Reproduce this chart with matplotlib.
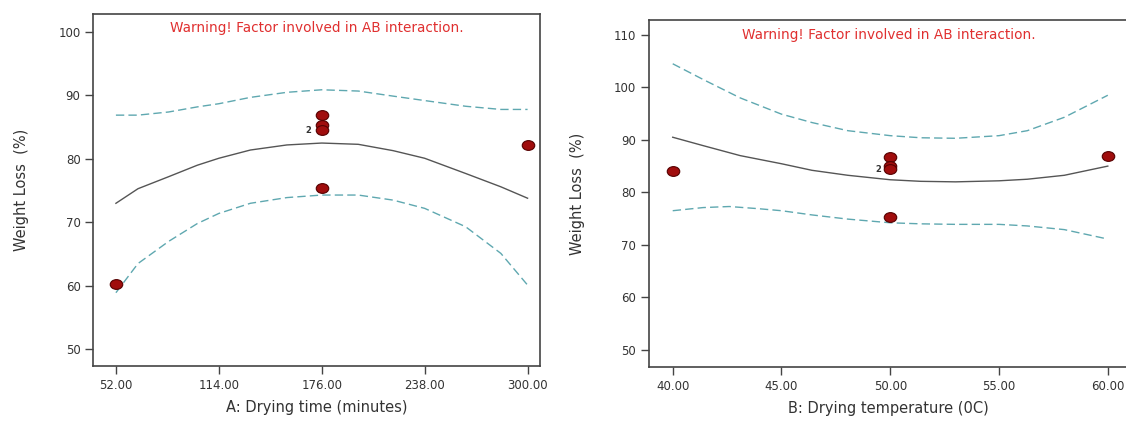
import numpy as np
import matplotlib.pyplot as plt
from matplotlib.path import Path

# --- panel A: drying time ---
time_x = [52, 65.3, 83.8, 101, 114, 133, 155, 176, 198, 219, 238, 262.7, 283.9, 300]
time_fit = [73.0, 75.3, 77.2, 79.0, 80.1, 81.4, 82.2, 82.5, 82.3, 81.3, 80.1, 77.7, 75.6, 73.8]
time_upper = [86.9, 86.9, 87.4, 88.2, 88.7, 89.7, 90.5, 90.9, 90.7, 89.9, 89.2, 88.3, 87.8, 87.8]
time_lower = [58.9, 63.5, 67.0, 69.8, 71.4, 73.0, 73.9, 74.3, 74.3, 73.5, 72.2, 69.3, 65.1, 60.1]
time_pts_x = [52, 176, 176, 176, 176, 300]
time_pts_y = [60.2, 86.9, 85.3, 84.5, 75.4, 82.2]
time_ticks = [52, 114, 176, 238, 300]

# --- panel B: drying temperature ---
temp_x = [40, 41.4, 43.1, 45, 46.4, 48.05, 50, 51.4, 53, 55, 56.3, 58, 60]
temp_fit = [90.5, 88.9, 87.0, 85.45, 84.2, 83.25, 82.4, 82.1, 82.0, 82.2, 82.5, 83.25, 85.0]
temp_upper = [104.5, 101.5, 98.0, 94.9, 93.3, 91.75, 90.8, 90.4, 90.3, 90.8, 91.75, 94.3, 98.5]
temp_lower = [76.5, 77.1, 77.3, 76.9, 76.5, 75.7, 74.9, 74.2, 74.0, 73.9, 73.9, 73.6, 72.9, 71.1]
temp_lower_x = [40, 41.4, 42.6, 43.9, 45, 46.4, 48.05, 50, 51.4, 53, 55, 56.3, 58, 60]
temp_pts_x = [40, 50, 50, 50, 50, 60]
temp_pts_y = [84.1, 86.7, 85.1, 84.4, 75.3, 87.0]
temp_ticks = [40, 45, 50, 55, 60]

warn = "Warning! Factor involved in AB interaction."
fit_col = "#555555"
ci_col = "#5fa8b0"
pt_col = "#a00d0d"
txt_col = "#333333"

# slightly flattened dot, like the design-expert markers
circ = Path.unit_circle()
ellipse = Path(circ.vertices * np.array([1.0, 0.78]), circ.codes)

fig = plt.figure(figsize=(11.26, 4.21), dpi=100)
ax1 = fig.add_axes([0.0826, 0.130, 0.397, 0.836])
ax2 = fig.add_axes([0.576, 0.128, 0.426, 0.824])

def style(ax):
    for s in ax.spines.values():
        s.set_color("#444444")
        s.set_linewidth(1.2)
    ax.tick_params(direction="out", length=6, width=1, colors="#444444",
                   labelsize=8.5, labelcolor=txt_col, pad=3)

# panel A
ax1.plot(time_x, time_fit, color=fit_col, lw=1)
ax1.plot(time_x, time_upper, color=ci_col, lw=1, ls=(0, (6, 3)))
ax1.plot(time_x, time_lower, color=ci_col, lw=1, ls=(0, (6, 3)))
ax1.plot(time_pts_x, time_pts_y, marker=ellipse, color=pt_col, mec="#550000", mew=0.8, ms=9, ls="none")
ax1.text(168, 84.4, "2", fontsize=6, fontweight="bold", color=txt_col, ha="center", va="center")
ax1.set_xlim(38.2, 307.5)
ax1.set_ylim(47.3, 102.8)
ax1.set_xticks(time_ticks)
ax1.set_xticklabels(["%.2f" % t for t in time_ticks])
ax1.set_yticks([50, 60, 70, 80, 90, 100])
ax1.set_xlabel("A: Drying time (minutes)", fontsize=10.5, color=txt_col, labelpad=6)
ax1.set_ylabel("Weight Loss  (%)", fontsize=10.5, color=txt_col, labelpad=21)
ax1.text(0.5, 0.962, warn, transform=ax1.transAxes, ha="center", va="center",
         color="#e03030", fontsize=9.8)
style(ax1)

# panel B
ax2.plot(temp_x, temp_fit, color=fit_col, lw=1)
ax2.plot(temp_x, temp_upper, color=ci_col, lw=1, ls=(0, (6, 3)))
ax2.plot(temp_lower_x, temp_lower, color=ci_col, lw=1, ls=(0, (6, 3)))
ax2.plot(temp_pts_x, temp_pts_y, marker=ellipse, color=pt_col, mec="#550000", mew=0.8, ms=9, ls="none")
ax2.text(49.45, 84.4, "2", fontsize=6, fontweight="bold", color=txt_col, ha="center", va="center")
ax2.set_xlim(38.89, 60.94)
ax2.set_ylim(46.7, 112.8)
ax2.set_xticks(temp_ticks)
ax2.set_xticklabels(["%.2f" % t for t in temp_ticks])
ax2.set_yticks([50, 60, 70, 80, 90, 100, 110])
ax2.set_xlabel("B: Drying temperature (0C)", fontsize=10.5, color=txt_col, labelpad=6)
ax2.set_ylabel("Weight Loss  (%)", fontsize=10.5, color=txt_col, labelpad=21)
ax2.text(0.5, 0.958, warn, transform=ax2.transAxes, ha="center", va="center",
         color="#e03030", fontsize=9.8)
style(ax2)

fig.savefig("out.png", dpi=100)
